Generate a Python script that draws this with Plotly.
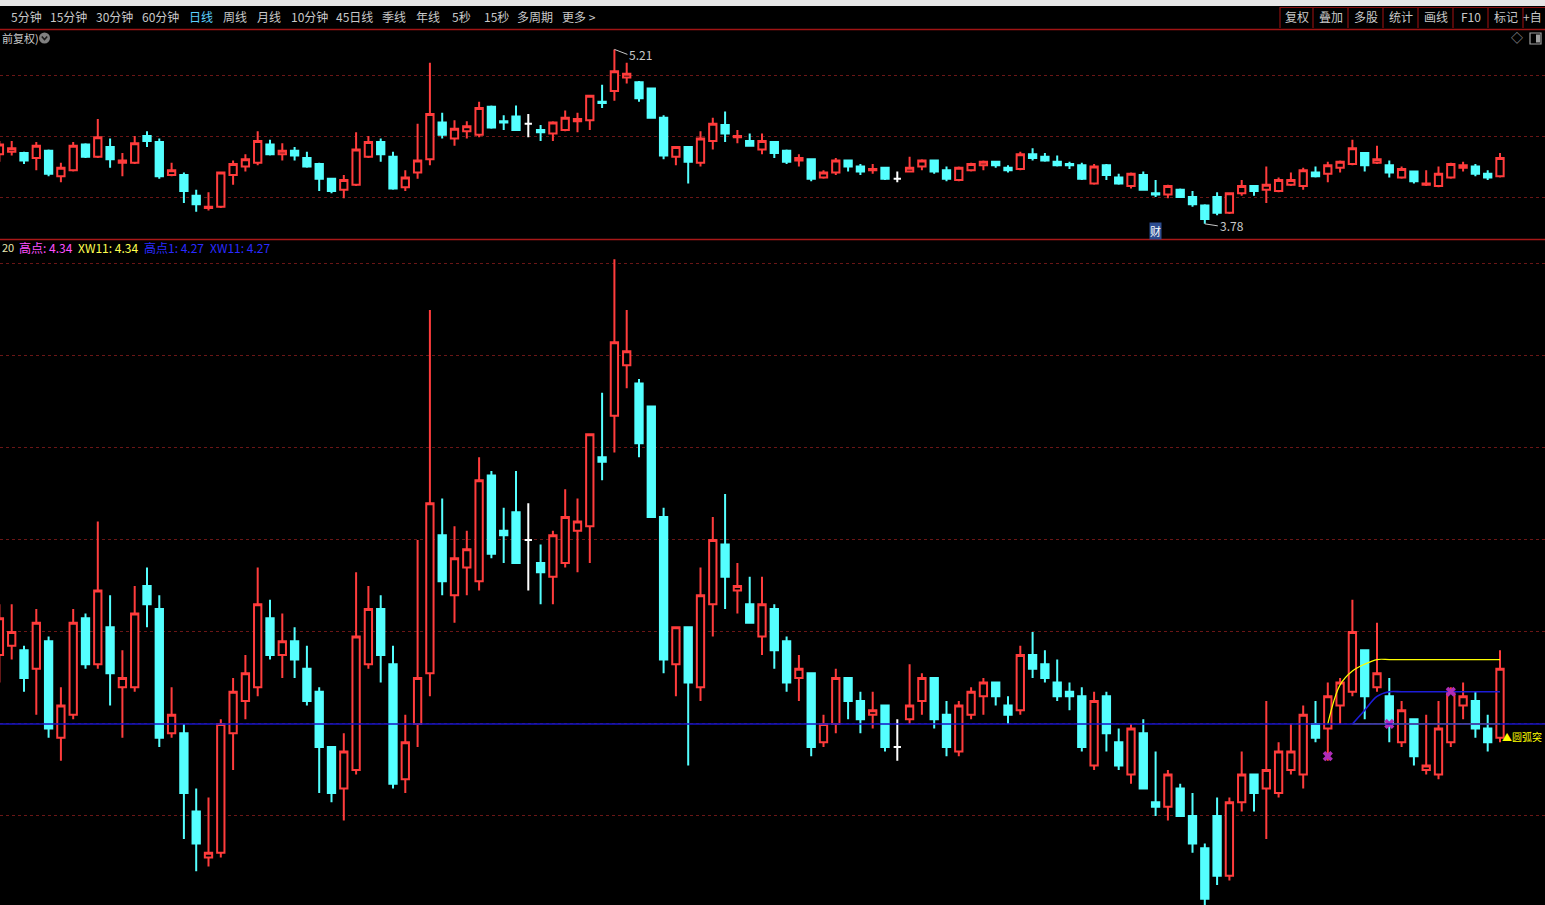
import plotly.graph_objects as go

W, H = 1545, 905

# ---------------- data (daily candles) ----------------
OPEN = [4.35, 4.37, 4.36, 4.32, 4.38, 4.17, 4.22, 4.43, 4.33, 4.41,
        4.28, 4.28, 4.50, 4.45, 4.18, 4.18, 4.01, 3.91, 3.92, 4.18,
        4.25, 4.28, 4.43, 4.35, 4.38, 4.32, 4.27, 4.15, 4.06, 4.10,
        4.33, 4.45, 4.33, 4.08, 4.20, 4.31, 4.61, 4.48, 4.54, 4.51,
        4.74, 4.62, 4.66, 4.60, 4.55, 4.52, 4.55, 4.62, 4.63, 4.78,
        4.87, 4.98, 4.94, 4.89, 4.65, 4.33, 4.41, 4.28, 4.46, 4.59,
        4.49, 4.46, 4.39, 4.45, 4.38, 4.30, 4.31, 4.16, 4.20, 4.30,
        4.25, 4.22, 4.24, 4.15, 4.21, 4.25, 4.30, 4.22, 4.14, 4.22,
        4.26, 4.29, 4.24, 4.23, 4.35, 4.33, 4.29, 4.27, 4.26, 4.11,
        4.26, 4.16, 4.09, 4.18, 4.03, 4.02, 4.06, 4.00, 3.93, 4.00,
        3.87, 4.03, 4.09, 4.06, 4.05, 4.10, 4.09, 4.20, 4.19, 4.24,
        4.27, 4.36, 4.28, 4.26, 4.16, 4.21, 4.10, 4.09, 4.16, 4.24,
        4.25, 4.19, 4.17]
HIGH = [4.46, 4.46, 4.37, 4.45, 4.39, 4.28, 4.45, 4.44, 4.64, 4.48,
        4.36, 4.50, 4.54, 4.48, 4.28, 4.20, 4.06, 4.04, 4.21, 4.30,
        4.35, 4.54, 4.47, 4.44, 4.41, 4.37, 4.28, 4.15, 4.18, 4.53,
        4.50, 4.48, 4.37, 4.22, 4.60, 5.10, 4.69, 4.63, 4.62, 4.78,
        4.75, 4.67, 4.75, 4.68, 4.59, 4.62, 4.71, 4.69, 4.83, 4.92,
        5.21, 5.10, 4.95, 4.89, 4.67, 4.41, 4.41, 4.54, 4.65, 4.70,
        4.55, 4.52, 4.52, 4.46, 4.39, 4.35, 4.31, 4.22, 4.32, 4.30,
        4.27, 4.27, 4.24, 4.21, 4.33, 4.31, 4.30, 4.25, 4.25, 4.28,
        4.30, 4.29, 4.26, 4.37, 4.40, 4.36, 4.34, 4.29, 4.28, 4.27,
        4.27, 4.19, 4.20, 4.21, 4.14, 4.10, 4.07, 4.05, 3.94, 4.04,
        4.04, 4.14, 4.09, 4.25, 4.16, 4.20, 4.24, 4.25, 4.29, 4.30,
        4.47, 4.36, 4.42, 4.30, 4.25, 4.21, 4.22, 4.25, 4.28, 4.29,
        4.27, 4.22, 4.36]
LOW = [4.29, 4.34, 4.27, 4.22, 4.17, 4.12, 4.21, 4.32, 4.32, 4.24,
       4.17, 4.27, 4.41, 4.15, 4.17, 3.95, 3.88, 3.89, 3.91, 4.10,
       4.21, 4.26, 4.34, 4.30, 4.30, 4.24, 4.05, 4.03, 3.99, 4.09,
       4.32, 4.29, 4.06, 4.05, 4.15, 4.26, 4.48, 4.42, 4.48, 4.49,
       4.56, 4.55, 4.55, 4.49, 4.46, 4.46, 4.54, 4.53, 4.55, 4.73,
       4.79, 4.93, 4.78, 4.65, 4.31, 4.26, 4.11, 4.25, 4.39, 4.45,
       4.44, 4.42, 4.35, 4.32, 4.27, 4.25, 4.13, 4.15, 4.18, 4.21,
       4.18, 4.19, 4.14, 4.12, 4.20, 4.22, 4.19, 4.13, 4.13, 4.21,
       4.22, 4.24, 4.20, 4.22, 4.30, 4.29, 4.25, 4.23, 4.14, 4.10,
       4.14, 4.10, 4.07, 4.06, 4.00, 3.99, 4.00, 3.92, 3.78, 3.85,
       3.86, 4.01, 4.01, 3.95, 4.04, 4.09, 4.06, 4.16, 4.12, 4.20,
       4.26, 4.21, 4.27, 4.16, 4.15, 4.11, 4.09, 4.08, 4.15, 4.21,
       4.17, 4.14, 4.16]
CLOSE = [4.43, 4.40, 4.30, 4.42, 4.19, 4.24, 4.42, 4.33, 4.49, 4.31,
         4.30, 4.44, 4.46, 4.17, 4.22, 4.05, 3.94, 3.92, 4.20, 4.27,
         4.31, 4.46, 4.35, 4.38, 4.34, 4.25, 4.15, 4.05, 4.14, 4.39,
         4.45, 4.35, 4.07, 4.16, 4.30, 4.68, 4.51, 4.56, 4.58, 4.73,
         4.57, 4.61, 4.55, 4.60, 4.53, 4.61, 4.65, 4.64, 4.83, 4.77,
         5.03, 5.01, 4.81, 4.65, 4.34, 4.41, 4.29, 4.48, 4.60, 4.52,
         4.50, 4.42, 4.46, 4.36, 4.29, 4.32, 4.15, 4.20, 4.30, 4.25,
         4.21, 4.23, 4.15, 4.15, 4.24, 4.30, 4.21, 4.15, 4.24, 4.27,
         4.29, 4.26, 4.22, 4.35, 4.32, 4.30, 4.26, 4.26, 4.15, 4.25,
         4.18, 4.11, 4.19, 4.06, 4.02, 4.09, 4.00, 3.94, 3.82, 3.87,
         4.03, 4.09, 4.05, 4.10, 4.14, 4.14, 4.22, 4.17, 4.26, 4.29,
         4.40, 4.26, 4.31, 4.20, 4.23, 4.13, 4.11, 4.19, 4.27, 4.26,
         4.19, 4.16, 4.32]
DOJI = [43, 73]            # flat (white) candles

HIGH_MARK = (50, 5.21)     # labelled extremes
LOW_MARK = (98, 3.78)
CAI_BAR = 94               # "财" flag

TOP_GRID = [4.0, 4.5, 5.0]
LOW_GRID = [4.0, 4.2, 4.4, 4.6, 4.8, 5.0, 5.2]

BASE_LEVEL = 4.20          # blue horizontal reference
ARC_X = [108, 109, 110, 111, 112, 113, 114, 115, 116, 117, 118, 119, 120, 121, 122]
ARC_Y = [4.20, 4.285, 4.315, 4.33, 4.34, 4.34, 4.34, 4.34, 4.34, 4.34, 4.34, 4.34, 4.34, 4.34, 4.34]
ARC1_X = [110, 111, 112, 113, 114, 115, 116, 117, 118, 119, 120, 121, 122]
ARC1_Y = [4.20, 4.23, 4.26, 4.27, 4.27, 4.27, 4.27, 4.27, 4.27, 4.27, 4.27, 4.27, 4.27]
ARC_BASE_Y = [4.20, 4.20, 4.20, 4.20, 4.20, 4.20, 4.20, 4.20, 4.20, 4.20, 4.20, 4.20, 4.20]
MARK_X = [108, 113, 118]
MARK_Y = [4.13, 4.20, 4.27]
SIGNAL = (122, 4.172)

TOOLBAR = ["5分钟", "15分钟", "30分钟", "60分钟", "日线", "周线", "月线", "10分钟",
           "45日线", "季线", "年线", "5秒", "15秒", "多周期", "更多 >"]
BUTTONS = ["复权", "叠加", "多股", "统计", "画线", "F10", "标记", "+自"]

# ---------------- styling ----------------
RED = "#ff3c3c"
CYAN = "#54ffff"
FONT = "Noto Sans CJK SC, DejaVu Sans, sans-serif"


def px(x):
    return x / W


def py(y):
    return 1 - y / H


fig = go.Figure()

normal = [i for i in range(len(OPEN)) if i not in DOJI]


def candles(ix, xa, ya, up_line, up_fill, dn_line, dn_fill):
    return go.Candlestick(
        x=ix,
        open=[OPEN[i] for i in ix], high=[HIGH[i] for i in ix],
        low=[LOW[i] for i in ix], close=[CLOSE[i] for i in ix],
        xaxis=xa, yaxis=ya, whiskerwidth=0, hoverinfo="skip", showlegend=False,
        increasing=dict(line=dict(color=up_line, width=2), fillcolor=up_fill),
        decreasing=dict(line=dict(color=dn_line, width=2), fillcolor=dn_fill),
    )


for xa, ya in (("x", "y"), ("x2", "y2")):
    fig.add_trace(candles(normal, xa, ya, RED, "#000000", CYAN, CYAN))
    fig.add_trace(candles(DOJI, xa, ya, "#ffffff", "#ffffff", "#ffffff", "#ffffff"))

# arc indicator lines (lower panel)
fig.add_trace(go.Scatter(x=ARC1_X, y=ARC_BASE_Y, mode="lines", xaxis="x2", yaxis="y2",
                         line=dict(color="#ffff00", width=1.2), hoverinfo="skip", showlegend=False))
fig.add_trace(go.Scatter(x=ARC_X, y=ARC_Y, mode="lines", xaxis="x2", yaxis="y2",
                         line=dict(color="#ffff00", width=1.2, shape="spline"),
                         hoverinfo="skip", showlegend=False))
fig.add_trace(go.Scatter(x=ARC1_X, y=ARC1_Y, mode="lines", xaxis="x2", yaxis="y2",
                         line=dict(color="#1c1cd8", width=1.6, shape="spline"),
                         hoverinfo="skip", showlegend=False))
fig.add_trace(go.Scatter(x=MARK_X, y=MARK_Y, mode="markers", xaxis="x2", yaxis="y2",
                         marker=dict(symbol="x", size=9, color="#b02cb8", line=dict(width=0)),
                         hoverinfo="skip", showlegend=False))

XR = [0.6 / 12.3, (W + 0.6) / 12.3]
axis_x = dict(range=XR, visible=False, showgrid=False, zeroline=False, fixedrange=True,
              rangeslider=dict(visible=False))
grid_style = dict(showticklabels=False, ticks="", zeroline=False, showline=False,
                  gridcolor="#6a1616", griddash="dot", gridwidth=1, fixedrange=True)

fig.update_layout(
    width=W, height=H,
    margin=dict(l=0, r=0, t=0, b=0),
    paper_bgcolor="#000000", plot_bgcolor="#000000",
    showlegend=False,
    boxmode="overlay", boxgap=0.3, boxgroupgap=0.15,
    font=dict(family=FONT, color="#c8c8c8", size=12),
    xaxis=dict(axis_x, domain=[0, 1], anchor="y"),
    xaxis2=dict(axis_x, domain=[0, 1], anchor="y2"),
    yaxis=dict(grid_style, domain=[py(238), py(30)], range=[3.664, 5.369], tickvals=TOP_GRID),
    yaxis2=dict(grid_style, domain=[0, py(240)], range=[3.8065, 5.252], tickvals=LOW_GRID),
)

shapes = []
# top light strip and toolbar separator
shapes.append(dict(type="rect", xref="paper", yref="paper", x0=0, x1=1, y0=py(6), y1=1,
                   fillcolor="#e6e6e6", line=dict(width=0), layer="above"))
shapes.append(dict(type="line", xref="paper", yref="paper", x0=0, x1=1, y0=py(29.5), y1=py(29.5),
                   line=dict(color="#a01414", width=1.5)))
# panel separator
shapes.append(dict(type="line", xref="paper", yref="paper", x0=0, x1=1, y0=py(239.5), y1=py(239.5),
                   line=dict(color="#a81818", width=1.5)))
# right toolbar buttons
SEPS = [1280, 1313, 1348, 1383, 1418, 1453, 1488, 1523]
for s in SEPS:
    shapes.append(dict(type="line", xref="paper", yref="paper", x0=px(s), x1=px(s),
                       y0=py(28), y1=py(7), line=dict(color="#8a1010", width=1.2)))
shapes.append(dict(type="line", xref="paper", yref="paper", x0=px(1280), x1=1,
                   y0=py(7.5), y1=py(7.5), line=dict(color="#8a1010", width=1)))
# blue reference line in lower panel
shapes.append(dict(type="line", xref="x2 domain", yref="y2", x0=0, x1=1, y0=BASE_LEVEL, y1=BASE_LEVEL,
                   line=dict(color="#1414c8", width=1.5), layer="above"))
# circle icon next to 前复权
shapes.append(dict(type="circle", xref="paper", yref="paper", x0=px(39), x1=px(50), y0=py(43.5), y1=py(32.5),
                   fillcolor="#808080", line=dict(width=0)))
shapes.append(dict(type="path", xref="paper", yref="paper",
                   path=f"M {px(41.8)} {py(36.5)} L {px(44.5)} {py(39.5)} L {px(47.2)} {py(36.5)}",
                   line=dict(color="#1a1a1a", width=1.6)))
# small window icon at right
shapes.append(dict(type="rect", xref="paper", yref="paper", x0=px(1530), x1=px(1541), y0=py(44), y1=py(33),
                   line=dict(color="#a0a0a0", width=1.2), fillcolor="rgba(0,0,0,0)"))
shapes.append(dict(type="rect", xref="paper", yref="paper", x0=px(1536), x1=px(1540), y0=py(42.5), y1=py(34.5),
                   line=dict(width=0), fillcolor="#a0a0a0"))

ann = []


def label(text, x, y, color="#c8c8c8", size=12, anchor="left"):
    ann.append(dict(text=text, xref="paper", yref="paper", x=px(x), y=py(y), showarrow=False,
                    xanchor=anchor, yanchor="middle", font=dict(color=color, size=size, family=FONT)))


TOOL_X = [9, 48, 94, 140, 187, 221, 255, 289, 334, 380, 414, 450, 482, 515, 560]
for t, x in zip(TOOLBAR, TOOL_X):
    label(t, x, 17, color="#5cd0ff" if t == "日线" else "#c8c8c8")

BTN_C = [1296.5, 1330.5, 1365.5, 1400.5, 1435.5, 1470.5, 1505.5]
for t, x in zip(BUTTONS[:-1], BTN_C):
    label(t, x, 17, anchor="center")
label(BUTTONS[-1], 1544, 17, anchor="right")

label("前复权)", 0, 38, color="#c8c8c8", size=11)
label("◇", 1517, 38, color="#a0a0a0", size=12, anchor="center")

# indicator caption in lower panel
label("20", 0, 247, color="#e6e6b0", size=11)
label("高点: 4.34", 17, 247, color="#ff50ff", size=12)
label("XW11: 4.34", 76, 247, color="#ffff50", size=12)
label("高点1: 4.27", 142, 247, color="#2a2aff", size=12)
label("XW11: 4.27", 208, 247, color="#2a2aff", size=12)

# extreme price labels in top panel
ann.append(dict(text=f"{HIGH_MARK[1]:.2f}", x=HIGH_MARK[0], y=HIGH_MARK[1], xref="x", yref="y",
                showarrow=True, arrowhead=0, arrowwidth=1, arrowcolor="#c8c8c8", ax=13, ay=5,
                xanchor="left", yanchor="middle", font=dict(color="#c8c8c8", size=12)))
ann.append(dict(text=f"{LOW_MARK[1]:.2f}", x=LOW_MARK[0], y=LOW_MARK[1], xref="x", yref="y",
                showarrow=True, arrowhead=0, arrowwidth=1, arrowcolor="#c8c8c8", ax=13, ay=2,
                xanchor="left", yanchor="middle", font=dict(color="#c8c8c8", size=12)))
ann.append(dict(text="财", x=CAI_BAR, y=3.72, xref="x", yref="y", showarrow=False,
                bgcolor="#2c4c90", borderpad=0, font=dict(color="#ffffff", size=11, family=FONT)))
# signal text in lower panel (the visible part of the label at the right edge)
ann.append(dict(text="▲圆弧突", x=SIGNAL[0], y=SIGNAL[1], xref="x2", yref="y2", showarrow=False,
                xanchor="left", yanchor="middle", xshift=0,
                font=dict(color="#ffff00", size=10, family=FONT)))

fig.update_layout(shapes=shapes, annotations=ann)

fig.write_html("out.html", config={"displayModeBar": False},
               post_script="document.body.style.margin='0';document.body.style.overflow='hidden';")
